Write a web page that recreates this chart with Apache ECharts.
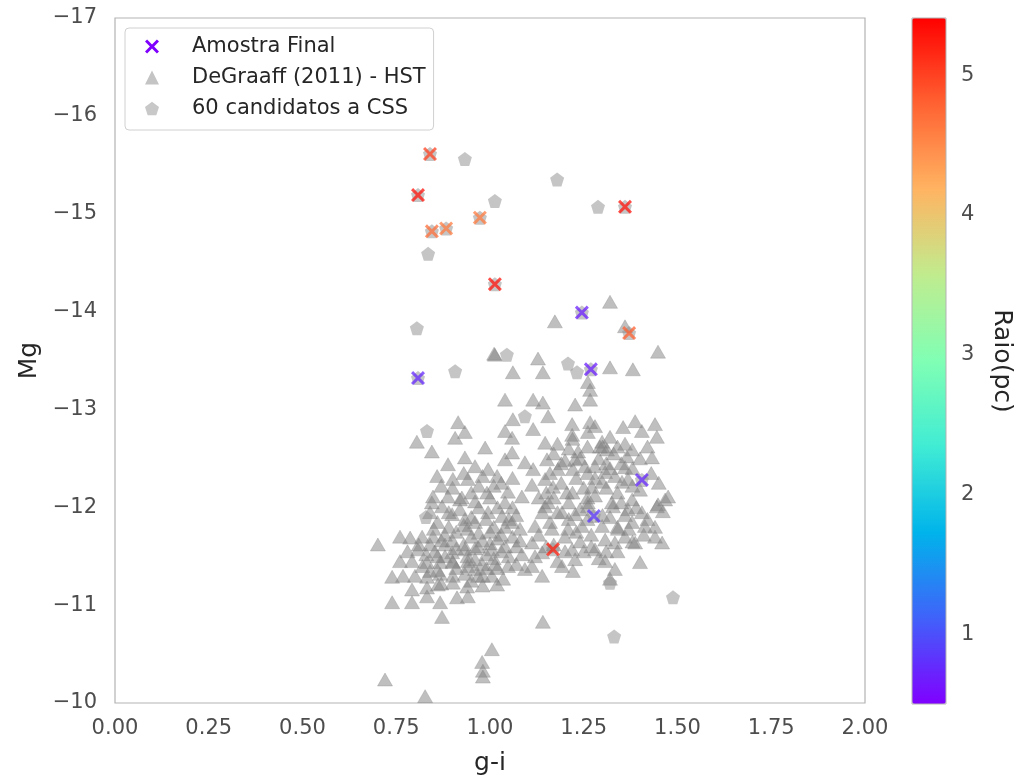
<!DOCTYPE html>
<html>
<head>
<meta charset="utf-8">
<script src="https://cdn.jsdelivr.net/npm/echarts@6/dist/echarts.min.js"></script>
<style>
  html, body { margin: 0; padding: 0; background: #fff; }
  #chart { width: 1022px; height: 781px; }
</style>
</head>
<body>
<div id="chart"></div>
<script>
// Final sample: [g-i, Mg, radius (pc)]
const amostraFinal = [
  [0.840, -15.61, 5.0], [0.808, -15.19, 5.3], [0.845, -14.82, 4.7], [0.883, -14.85, 4.6],
  [0.973, -14.96, 4.6], [1.360, -15.07, 5.3], [1.013, -14.28, 5.3], [1.245, -13.99, 0.7],
  [1.371, -13.78, 4.8], [0.808, -13.32, 0.75], [1.269, -13.41, 0.7], [1.405, -12.28, 0.75],
  [1.277, -11.91, 0.85], [1.168, -11.57, 5.2]
];

// 60 UCD candidates: [g-i, Mg]
const candidatos = [
  [0.933, -15.56], [1.179, -15.35], [1.013, -15.13], [1.288, -15.07], [0.835, -14.59],
  [0.805, -13.83], [0.907, -13.39], [1.045, -13.56], [1.208, -13.47], [1.232, -13.38],
  [0.832, -12.78], [0.829, -11.90], [1.488, -11.08], [1.331, -10.68], [1.320, -11.23],
  [1.093, -12.93],
  [0.840, -15.61], [0.808, -15.19], [0.845, -14.82], [0.883, -14.85], [0.973, -14.96],
  [1.360, -15.07], [1.013, -14.28], [1.245, -13.99], [1.371, -13.78], [0.808, -13.32],
  [1.269, -13.41], [1.405, -12.28], [1.277, -11.91], [1.168, -11.57]
];

// DeGraaff (2011) HST sample: [g-i, Mg]
const degraaff = [
  [1.320, -14.10], [1.173, -13.90], [1.360, -13.85], [1.448, -13.59], [1.013, -13.56],
  [1.011, -13.57], [1.128, -13.52], [1.061, -13.38], [1.141, -13.38], [1.320, -13.43],
  [1.381, -13.41], [1.261, -13.28],
  [1.040, -13.10], [1.061, -12.90], [0.915, -12.87], [0.933, -12.77], [0.907, -12.71],
  [0.805, -12.67], [0.845, -12.57], [0.987, -12.61], [1.040, -12.78], [1.059, -12.71],
  [0.933, -12.51], [0.888, -12.44], [0.859, -12.32], [0.901, -12.29], [0.960, -12.42],
  [0.995, -12.39], [1.019, -12.32], [1.040, -12.49], [1.059, -12.56], [0.941, -12.29],
  [0.848, -12.11], [0.888, -12.11], [0.925, -12.10], [0.960, -12.06], [0.992, -12.15],
  [1.048, -12.16], [1.085, -12.11], [1.093, -12.46],
  [1.267, -13.20], [1.267, -13.10], [1.227, -13.05], [1.115, -13.10], [1.141, -13.07],
  [1.155, -12.93], [1.219, -12.85], [1.219, -12.74], [1.267, -12.87], [1.280, -12.83],
  [1.261, -12.77], [1.115, -12.80], [1.147, -12.66], [1.320, -12.72], [1.299, -12.67],
  [1.312, -12.59], [1.293, -12.62], [1.355, -12.82], [1.387, -12.88], [1.405, -12.78],
  [1.440, -12.85], [1.445, -12.72], [1.379, -12.59], [1.365, -12.52], [1.432, -12.51],
  [1.235, -12.57], [1.227, -12.49], [1.253, -12.42], [1.221, -12.39], [1.115, -12.39],
  [1.152, -12.49], [1.181, -12.39], [1.280, -12.42], [1.307, -12.36], [1.333, -12.32],
  [1.360, -12.41], [1.368, -12.29], [1.352, -12.26], [1.147, -12.29], [1.112, -12.23],
  [1.168, -12.21], [1.205, -12.15], [1.272, -12.21], [1.299, -12.26], [1.475, -12.11],
  [1.155, -12.05], [1.261, -12.05], [1.325, -12.05], [1.379, -12.08], [1.448, -12.03],
  [0.701, -11.62], [0.760, -11.70], [0.787, -11.69], [0.819, -11.70], [0.848, -11.70],
  [0.880, -11.72], [0.840, -11.95], [0.899, -11.93], [0.933, -11.88], [0.960, -11.85],
  [0.995, -11.95], [1.032, -11.91], [1.059, -11.85], [1.080, -11.78], [0.845, -12.05],
  [0.872, -12.01], [0.808, -11.57], [0.853, -11.55], [0.899, -11.54], [0.933, -11.57],
  [0.968, -11.60], [1.005, -11.57], [1.040, -11.60], [1.085, -11.52], [0.792, -11.45],
  [0.832, -11.44], [0.867, -11.44], [0.901, -11.44], [0.941, -11.45], [0.979, -11.42],
  [1.013, -11.42], [1.048, -11.40], [1.093, -11.37], [0.739, -11.29], [0.768, -11.30],
  [0.800, -11.30], [0.832, -11.29], [0.867, -11.32], [0.901, -11.30], [0.933, -11.32],
  [0.968, -11.30], [1.005, -11.30], [1.035, -11.27], [0.792, -11.16], [0.832, -11.18],
  [0.861, -11.21], [0.901, -11.23], [0.939, -11.19], [0.832, -11.09], [0.912, -11.08],
  [0.941, -11.09], [0.739, -11.03], [0.792, -11.03], [0.867, -11.03], [0.872, -10.88],
  [0.960, -11.37], [0.981, -11.30], [1.019, -11.21],
  [1.147, -12.01], [1.192, -11.95], [1.227, -11.93], [1.261, -12.01], [1.328, -12.01],
  [1.368, -11.98], [1.405, -11.95], [1.445, -12.01], [1.467, -12.08], [1.120, -11.81],
  [1.165, -11.78], [1.208, -11.78], [1.245, -11.81], [1.299, -11.81], [1.341, -11.78],
  [1.379, -11.85], [1.413, -11.81], [1.440, -11.70], [1.459, -11.64], [1.112, -11.64],
  [1.139, -11.54], [1.219, -11.57], [1.227, -11.47], [1.280, -11.57], [1.307, -11.67],
  [1.333, -11.64], [1.360, -11.70], [1.387, -11.64], [1.112, -11.40], [1.139, -11.30],
  [1.192, -11.40], [1.221, -11.35], [1.307, -11.45], [1.333, -11.37], [1.320, -11.27],
  [1.400, -11.44], [1.141, -10.83], [1.461, -11.96],
  [1.005, -10.55], [0.979, -10.42], [0.981, -10.33], [0.981, -10.27], [0.720, -10.24],
  [0.827, -10.07],
  [0.900, -12.20], [0.920, -11.98], [0.950, -11.90], [0.970, -12.00], [0.990, -11.88],
  [1.000, -11.75], [1.020, -11.68], [0.980, -11.66], [0.950, -11.70], [0.930, -11.62],
  [0.910, -11.75], [0.890, -11.80], [0.870, -11.66], [0.860, -11.85], [0.940, -11.50],
  [0.960, -11.47], [0.990, -11.52], [1.010, -11.48], [1.030, -11.55], [1.050, -11.50],
  [1.060, -11.70], [1.040, -11.80], [1.070, -11.92], [1.020, -12.00], [1.000, -12.10],
  [0.970, -12.22], [0.930, -12.35], [1.030, -12.25], [1.060, -12.30], [0.880, -11.50],
  [0.840, -11.62], [0.820, -11.40], [0.860, -11.36], [0.910, -11.38], [0.950, -11.25],
  [0.980, -11.20], [1.020, -11.38], [1.070, -11.42], [0.780, -11.55], [0.760, -11.45],
  [1.170, -12.55], [1.190, -12.45], [1.210, -12.60], [1.240, -12.50], [1.260, -12.62],
  [1.290, -12.50], [1.310, -12.45], [1.330, -12.55], [1.350, -12.45], [1.380, -12.40],
  [1.400, -12.50], [1.420, -12.62], [1.230, -12.30], [1.250, -12.20], [1.190, -12.25],
  [1.170, -12.10], [1.210, -12.05], [1.240, -11.98], [1.280, -12.12], [1.310, -12.20],
  [1.340, -12.15], [1.360, -11.92], [1.390, -12.00], [1.420, -11.88], [1.440, -11.80],
  [1.300, -11.92], [1.270, -11.72], [1.240, -11.65], [1.200, -11.70], [1.170, -11.62],
  [1.160, -11.85], [1.140, -11.95], [1.130, -12.10], [1.120, -11.50], [1.180, -11.45],
  [1.250, -11.55], [1.290, -11.48], [1.340, -11.55], [1.370, -11.78], [1.260, -11.88],
  [0.850, -11.78], [0.880, -11.62], [0.910, -11.58], [0.940, -11.78], [0.970, -11.74],
  [1.000, -11.63], [1.030, -11.72], [1.050, -11.88], [1.070, -11.60], [0.990, -11.38],
  [0.940, -11.40], [0.900, -11.66], [0.860, -11.50], [0.830, -11.52], [0.810, -11.62],
  [0.890, -11.95], [0.920, -12.08], [0.950, -12.15], [0.980, -12.32], [1.010, -12.22],
  [1.040, -12.05], [1.060, -12.00], [1.080, -11.66], [0.870, -12.22], [0.960, -11.58],
  [1.010, -11.80], [0.930, -11.82], [0.900, -11.45], [0.870, -11.22], [0.840, -11.35],
  [1.160, -12.35], [1.180, -12.65], [1.200, -12.48], [1.220, -12.70], [1.260, -12.35],
  [1.280, -12.30], [1.300, -12.62], [1.320, -12.40], [1.340, -12.62], [1.360, -12.65],
  [1.380, -12.22], [1.400, -12.18], [1.430, -12.35], [1.450, -12.25], [1.220, -12.15],
  [1.260, -12.10], [1.320, -11.90], [1.340, -11.80], [1.380, -11.65], [1.410, -11.72],
  [1.210, -11.88], [1.180, -11.95], [1.150, -12.15], [1.130, -11.72], [1.150, -11.60],
  [1.200, -11.55], [1.230, -11.75], [1.270, -11.60], [1.310, -11.55], [1.350, -12.05]
];

// Axis ticks
const xTicks = [0, 0.25, 0.5, 0.75, 1, 1.25, 1.5, 1.75, 2];
const yTicks = [-17, -16, -15, -14, -13, -12, -11, -10];
const radiusTicks = [1, 2, 3, 4, 5];
const radiusRange = [0.5, 5.41];

// matplotlib "rainbow" colour map stops
const rainbow = ['#8000ff', '#4062fa', '#00b4eb', '#40ecd4', '#80ffb4',
                 '#c0ec8e', '#ffb462', '#ff6232', '#ff0000'];

const FONT = 'DejaVu Sans';
const TICK = 21;
const TITLE = 25;
const minus = v => String(v).replace('-', '\u2212');

const crossPath = 'path://M1.5,0 L5,3.5 L8.5,0 L10,1.5 L6.5,5 L10,8.5 L8.5,10 L5,6.5 L1.5,10 L0,8.5 L3.5,5 L0,1.5 Z';
const pentagonPath = 'path://M50,0 L97.6,34.5 L79.4,90.5 L20.6,90.5 L2.4,34.5 Z';

const chart = echarts.init(document.getElementById('chart'), null, { renderer: 'canvas' });

chart.setOption({
  animation: false,
  backgroundColor: '#ffffff',
  textStyle: { fontFamily: FONT },
  grid: [
    { left: 115, top: 18, width: 750, height: 686, show: true,
      borderColor: '#b3b3b3', borderWidth: 1.2, backgroundColor: 'transparent' },
    { left: 912, top: 18, width: 34, height: 686, show: true,
      borderColor: '#b3b3b3', borderWidth: 1, backgroundColor: 'transparent', z: 5 }
  ],
  xAxis: [
    {
      gridIndex: 0, type: 'value', min: xTicks[0], max: xTicks[xTicks.length - 1], interval: 0.25,
      name: 'g-i', nameLocation: 'middle', nameGap: 48,
      nameTextStyle: { fontSize: TITLE, color: '#262626', fontFamily: FONT },
      axisLine: { show: false }, axisTick: { show: false }, splitLine: { show: false },
      axisLabel: { fontSize: TICK, color: '#4d4d4d', margin: 15, fontFamily: FONT,
                   formatter: v => v.toFixed(2) }
    },
    { gridIndex: 1, type: 'value', min: 0, max: 1, show: false }
  ],
  yAxis: [
    {
      gridIndex: 0, type: 'value', inverse: true, min: yTicks[0], max: yTicks[yTicks.length - 1], interval: 1,
      name: 'Mg', nameLocation: 'middle', nameGap: 72, nameRotate: 90,
      nameTextStyle: { fontSize: TITLE, color: '#262626', fontFamily: FONT },
      axisLine: { show: false }, axisTick: { show: false }, splitLine: { show: false },
      axisLabel: { fontSize: TICK, color: '#4d4d4d', margin: 18, fontFamily: FONT,
                   formatter: v => minus(v) }
    },
    {
      gridIndex: 1, type: 'value', position: 'right', min: radiusRange[0], max: radiusRange[1],
      name: 'Raio(pc)', nameLocation: 'middle', nameGap: 43, nameRotate: -90,
      nameTextStyle: { fontSize: TITLE, color: '#262626', fontFamily: FONT },
      axisLine: { show: false }, axisTick: { show: false }, splitLine: { show: false },
      axisLabel: { fontSize: TICK, color: '#4d4d4d', margin: 15, fontFamily: FONT,
                   customValues: radiusTicks, formatter: v => String(v) }
    }
  ],
  visualMap: {
    type: 'continuous',
    seriesIndex: 2,
    dimension: 2,
    min: radiusRange[0],
    max: radiusRange[1],
    calculable: false,
    realtime: false,
    text: null,
    left: 912,
    top: 18,
    padding: 0,
    itemWidth: 34,
    itemHeight: 686,
    inRange: { color: rainbow }
  },
  legend: {
    orient: 'vertical',
    left: 125,
    top: 28,
    padding: [6, 8, 9, 20],
    itemGap: 6,
    itemWidth: 14,
    itemHeight: 14,
    backgroundColor: '#ffffff',
    borderColor: '#d0d0d0',
    borderWidth: 1,
    borderRadius: 4,
    textStyle: { fontSize: TICK, lineHeight: 25, color: '#262626', fontFamily: FONT,
                 padding: [0, 0, 0, 28] },
    data: [
      { name: 'Amostra Final', icon: crossPath,
        itemStyle: { color: '#8000ff', opacity: 1, borderWidth: 0 } },
      { name: 'DeGraaff (2011) - HST', icon: 'triangle',
        itemStyle: { color: '#c4c4c4', opacity: 1, borderWidth: 0 } },
      { name: '60 candidatos a CSS', icon: pentagonPath,
        itemStyle: { color: '#c8c8c8', opacity: 1, borderWidth: 0 } }
    ]
  },
  series: [
    {
      name: 'DeGraaff (2011) - HST',
      type: 'scatter', xAxisIndex: 0, yAxisIndex: 0,
      symbol: 'triangle', symbolSize: [15, 13],
      itemStyle: { color: '#808080', opacity: 0.5, borderColor: '#808080', borderWidth: 0.6 },
      data: degraaff
    },
    {
      name: '60 candidatos a CSS',
      type: 'scatter', xAxisIndex: 0, yAxisIndex: 0,
      symbol: pentagonPath, symbolSize: 14,
      itemStyle: { color: '#8c8c8c', opacity: 0.5 },
      data: candidatos
    },
    {
      name: 'Amostra Final',
      type: 'scatter', xAxisIndex: 0, yAxisIndex: 0,
      symbol: crossPath, symbolSize: 14,
      itemStyle: { color: '#8000ff', opacity: 0.75 },
      data: amostraFinal
    }
  ]
});
</script>
</body>
</html>
